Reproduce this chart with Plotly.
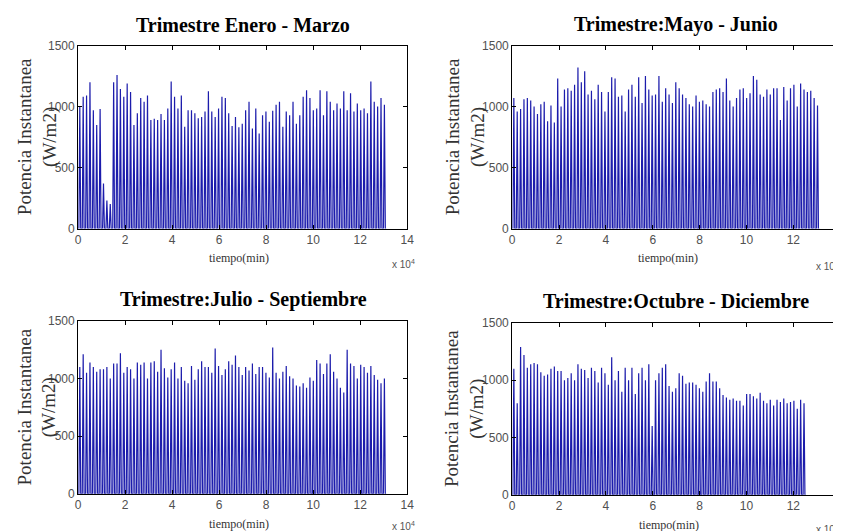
import plotly.graph_objects as go

# Daily peak irradiance (W/m2), one value per day
peaks_ene_mar = [1000, 1080, 1090, 1200, 970, 850, 980, 370, 230, 200, 1200, 1260, 1145, 1080,
                 1190, 1120, 850, 945, 1070, 1040, 1090, 890, 900, 890, 940, 890, 985, 1205, 1080,
                 985, 1090, 835, 970, 970, 945, 905, 915, 960, 1125, 960, 915, 985, 1080, 1070,
                 945, 840, 915, 830, 860,
                 970, 1040, 820, 985, 780, 930, 960, 875, 965, 1015, 1040, 835, 960, 930, 1040,
                 860, 930, 1080, 1135, 1070, 970, 985, 1135, 930, 1125, 1040, 970, 1025, 985,
                 1125, 970, 1110, 960, 1025, 970, 985, 945, 1205, 1040, 1000, 1070, 1015]

peaks_may_jun = [1070, 960, 980, 1060, 1070, 1050, 1000, 940, 1020, 1040, 880, 1010, 870,
                 1230, 1000, 1140, 1150, 1130, 1180, 1320, 1200, 1290, 1100, 1130, 1060, 1180,
                 1120, 960, 1120, 1240, 1230, 1080, 1090, 960, 1140, 1180, 1080, 1240, 1030, 1250,
                 1140, 1090, 1100, 1250, 1040, 1150, 1100, 1030, 1200, 1150, 1100, 1070, 1020,
                 1000, 1090, 1040, 1050, 1020, 1000, 1120, 1140, 1150, 1120, 1230, 1050, 1000,
                 1070, 1140, 1150, 1070, 1110, 1250, 1220, 1100, 1080, 1140, 1100, 1150, 1150,
                 890, 1160, 1050, 1150, 1180, 1000, 1190, 1140, 1120, 1130, 1070, 1010]

peaks_jul_sep = [1100, 1210, 1050, 1140, 1100, 1060, 1080, 1080, 1100, 1000, 1130, 1130, 1220,
                 1050, 1100, 1080, 1000, 1140, 1120, 1140, 1000, 1140, 1150, 1060, 1250, 1090,
                 1010, 1080, 1140, 1000, 1100, 980, 960, 1110, 990, 1080, 1150, 1100, 1100, 1050,
                 1260, 1110, 1030, 1080, 1150, 1120, 1200, 1100, 1030, 1100, 1070, 1130, 1040,
                 1100, 1100, 1050, 1010, 1270, 1050, 1000, 1060, 1110, 1020, 1000, 940, 930, 960,
                 920, 1010, 980, 1160, 1130, 1040, 1130, 1210, 1060, 1000, 920, 880, 1250, 1130,
                 1110, 1000, 1120, 1100, 1050, 1110, 1030, 990, 960, 1000]

peaks_oct_dic = [1100, 800, 1290, 1220, 1110, 1140, 1150, 1140, 1070, 1040, 1050, 1100, 1120,
                 1080, 1080, 1000, 1020, 1060, 1000, 1140, 1100, 1090, 1020, 1110, 1080, 980,
                 1110, 1060, 960, 1200, 1000, 1080, 900, 1110, 1000, 1110, 880, 1060, 1110, 1000,
                 1140, 600, 1000, 1060, 1110, 1140, 950, 900, 930, 1060, 1040, 970, 980, 980, 960,
                 930, 900, 990, 1060, 990, 990, 930, 870, 850, 830, 840, 820, 820, 780, 880, 880,
                 860, 840, 890, 820, 800, 830, 780, 830, 810, 840, 800, 810, 820, 750, 830, 800]

titles = ["Trimestre Enero - Marzo", "Trimestre:Mayo - Junio",
          "Trimestre:Julio - Septiembre", "Trimestre:Octubre - Diciembre"]
x_tick_vals = [0, 20000, 40000, 60000, 80000, 100000, 120000, 140000]
x_tick_text = ["0", "2", "4", "6", "8", "10", "12", "14"]
y_tick_vals = [0, 500, 1000, 1500]

MIN_PER_DAY = 1440
SUNRISE, NOON, SUNSET = 330, 720, 1110
W, H = 841, 531

# mapping from target screen pixels to figure paper coordinates
def PX(x):
    return ((x - 10.9) / 0.988) / W

def PY(y):
    return 1 - ((y - 15.5) / 0.969) / H

def day_profile(peaks):
    xs, ys = [], []
    for d, p in enumerate(peaks):
        base = d * MIN_PER_DAY
        xs += [base, base + SUNRISE, base + NOON, base + SUNSET]
        ys += [0, 0, p, 0]
    xs.append(len(peaks) * MIN_PER_DAY)
    ys.append(0)
    return xs, ys

# target pixel boxes of each axes: (left, right, top, bottom)
boxes = [(78, 407, 46, 228), (512, 840, 46, 228), (78, 407, 320, 492), (512, 840, 322, 493)]
title_pos = [(243, 25), (676, 25), (243, 299), (676, 300)]
xlab_pos = [(239, 257), (668, 257), (239, 522), (669, 523)]
exp_pos = [(390, 263, "left"), (814, 265, "left"), (390, 524, "left"), (814, 527, "left")]
ylab_x = [37, 465, 37, 465]
series = [peaks_ene_mar, peaks_may_jun, peaks_jul_sep, peaks_oct_dic]

fig = go.Figure()
layout = dict(width=W, height=H, margin=dict(l=0, r=0, t=0, b=0),
              paper_bgcolor="white", plot_bgcolor="white", showlegend=False)
annotations = []
tick_font = dict(family="Liberation Sans, Arial, sans-serif", size=12, color="#505050")
serif = "Liberation Serif, Times New Roman, serif"

for i, (pk, box, title) in enumerate(zip(series, boxes, titles)):
    l, r, t, b = box
    xs, ys = day_profile(pk)
    suffix = "" if i == 0 else str(i + 1)
    fig.add_trace(go.Scatter(x=xs, y=ys, mode="lines",
                             line=dict(color="#1c1cac", width=1.2),
                             xaxis="x" + suffix, yaxis="y" + suffix, hoverinfo="skip"))
    common = dict(showgrid=False, zeroline=False, showline=True, linecolor="black",
                  linewidth=1, mirror="ticks", ticks="inside", ticklen=4,
                  tickcolor="black", tickfont=tick_font)
    layout["xaxis" + suffix] = dict(common, domain=[PX(l), PX(r)], anchor="y" + suffix,
                                    range=[0, 140000], tickvals=x_tick_vals,
                                    ticktext=x_tick_text)
    layout["yaxis" + suffix] = dict(common, domain=[PY(b), PY(t)], anchor="x" + suffix,
                                    range=[0, 1500], tickvals=y_tick_vals)
    tx, ty = title_pos[i]
    annotations.append(dict(text="<b>" + title + "</b>", x=PX(tx), y=PY(ty),
                            xref="paper", yref="paper", showarrow=False,
                            font=dict(family=serif, size=20, color="black"),
                            xanchor="center", yanchor="middle"))
    lx, ly = xlab_pos[i]
    annotations.append(dict(text="tiempo(min)", x=PX(lx), y=PY(ly),
                            xref="paper", yref="paper", showarrow=False,
                            font=dict(family=serif, size=12, color="#333333"),
                            xanchor="center", yanchor="middle"))
    ex, ey, ea = exp_pos[i]
    annotations.append(dict(text="x 10<sup>4</sup>", x=PX(ex), y=PY(ey),
                            xref="paper", yref="paper", showarrow=False,
                            font=dict(family="Liberation Sans, Arial, sans-serif", size=10,
                                      color="#555555"),
                            xanchor=ea, yanchor="middle"))
    annotations.append(dict(text="Potencia Instantanea<br>(W/m2)", x=PX(ylab_x[i]),
                            y=PY((t + b) / 2), xref="paper", yref="paper",
                            showarrow=False, textangle=-90,
                            font=dict(family=serif, size=19, color="#333333"),
                            xanchor="center", yanchor="middle"))

layout["annotations"] = annotations
fig.update_layout(**layout)
fig.write_html("out.html")
